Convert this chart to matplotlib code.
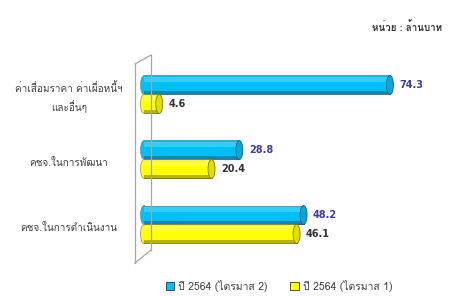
import matplotlib
matplotlib.use("Agg")
import matplotlib.pyplot as plt
from matplotlib import font_manager, ft2font
from matplotlib.patches import Ellipse, Patch
from matplotlib.lines import Line2D


# find an installed font that has Thai glyphs
def find_thai_font():
    for f in font_manager.fontManager.ttflist:
        try:
            if ft2font.FT2Font(f.fname).get_char_index(0x0E01):
                return f.name
        except Exception:
            pass
    return None


thai = find_thai_font()
fams = [thai, "DejaVu Sans"] if thai else ["DejaVu Sans"]
plt.rcParams["font.family"] = fams

# data
categories = ["ค่าเสื่อมราคา ค่าเผื่อหนี้ฯ\nและอื่นๆ", "คชจ.ในการพัฒนา", "คชจ.ในการดำเนินงาน"]
q2_values = [74.3, 28.8, 48.2]
q1_values = [4.6, 20.4, 46.1]
series_names = ["ปี 2564 (ไตรมาส 2)", "ปี 2564 (ไตรมาส 1)"]
unit_label = "หน่วย : ล้านบาท"

W, H = 457, 296
fig = plt.figure(figsize=(W / 100, H / 100), dpi=100)
ax = fig.add_axes([0, 0, 1, 1])
ax.axis("off")

# pixel mapping: value 0 at x=144px, 3.31 px per unit; groups 65px apart
x0, sx = 144, 3.31
ax.set_xlim(-x0 / sx, (W - x0) / sx)
y0, sy = 94.5, 65
ax.set_ylim((H - y0) / sy, -y0 / sy)

bh = 19 / sy
cap_w = 7 / sx
styles = [
    dict(vals=q2_values, off=-bh / 2, c="#00c0f5", hi="#30cffa", lo="#0a88b5", edge="#1d5f7a",
         cap="#0aa6d8", tc="#3b3baa"),
    dict(vals=q1_values, off=bh / 2, c="#ffff00", hi="#ffff40", lo="#b5b500", edge="#7a7a00",
         cap="#e0e000", tc="#333333"),
]

# back wall
wall = [((135, 64), (151, 55)), ((135, 64), (135, 263)), ((151, 55), (151, 250)), ((135, 263), (151, 250))]
for (xa, ya), (xb, yb) in wall:
    fig.add_artist(Line2D([xa / W, xb / W], [1 - ya / H, 1 - yb / H], color="#a6a6a6", lw=0.9))

for st in styles:
    for i, v in enumerate(st["vals"]):
        y = i + st["off"]
        ax.add_patch(Ellipse((0, y), cap_w, bh, facecolor=st["c"], edgecolor="#8a8a8a", lw=0.5, zorder=2))
        ax.barh(y, v, height=bh, color=st["c"], linewidth=0, zorder=3)
        ax.barh(y - bh * 0.3, v, height=bh * 0.25, color=st["hi"], linewidth=0, zorder=4)
        ax.barh(y + bh * 0.4, v, height=bh * 0.2, color=st["lo"], linewidth=0, zorder=4)
        ax.plot([0, v], [y - bh / 2, y - bh / 2], color="#8a8a8a", lw=0.5, zorder=4)
        ax.plot([0, v], [y + bh / 2, y + bh / 2], color=st["edge"], lw=0.6, zorder=4)
        ax.add_patch(Ellipse((v, y), cap_w, bh, facecolor=st["cap"], edgecolor=st["edge"], lw=0.6, zorder=5))
        ax.text(v + cap_w / 2 + 6 / sx, y, f"{v:.1f}", color=st["tc"], fontsize=7,
                fontweight="bold", va="center", ha="left", family="DejaVu Sans")

for i, lab in enumerate(categories):
    ax.text((69 - x0) / sx, i + 0.05, lab, ha="center", va="center", fontsize=7.2,
            color="#404040", linespacing=1.6)

fig.text(442 / W, 1 - 27 / H, unit_label, ha="right", va="center", fontsize=7,
         fontweight="bold", color="#333333")

handles = [Patch(facecolor=styles[0]["c"], edgecolor="#333333", lw=0.6),
           Patch(facecolor=styles[1]["c"], edgecolor="#333333", lw=0.6)]
fig.legend(handles, series_names, loc="center", bbox_to_anchor=(279 / W, 1 - 286 / H), ncol=2,
           frameon=False, fontsize=7.5, handlelength=0.8, handleheight=0.8, handletextpad=0.4,
           columnspacing=2.2, labelcolor="#404040")

fig.savefig("out.png", dpi=100)
